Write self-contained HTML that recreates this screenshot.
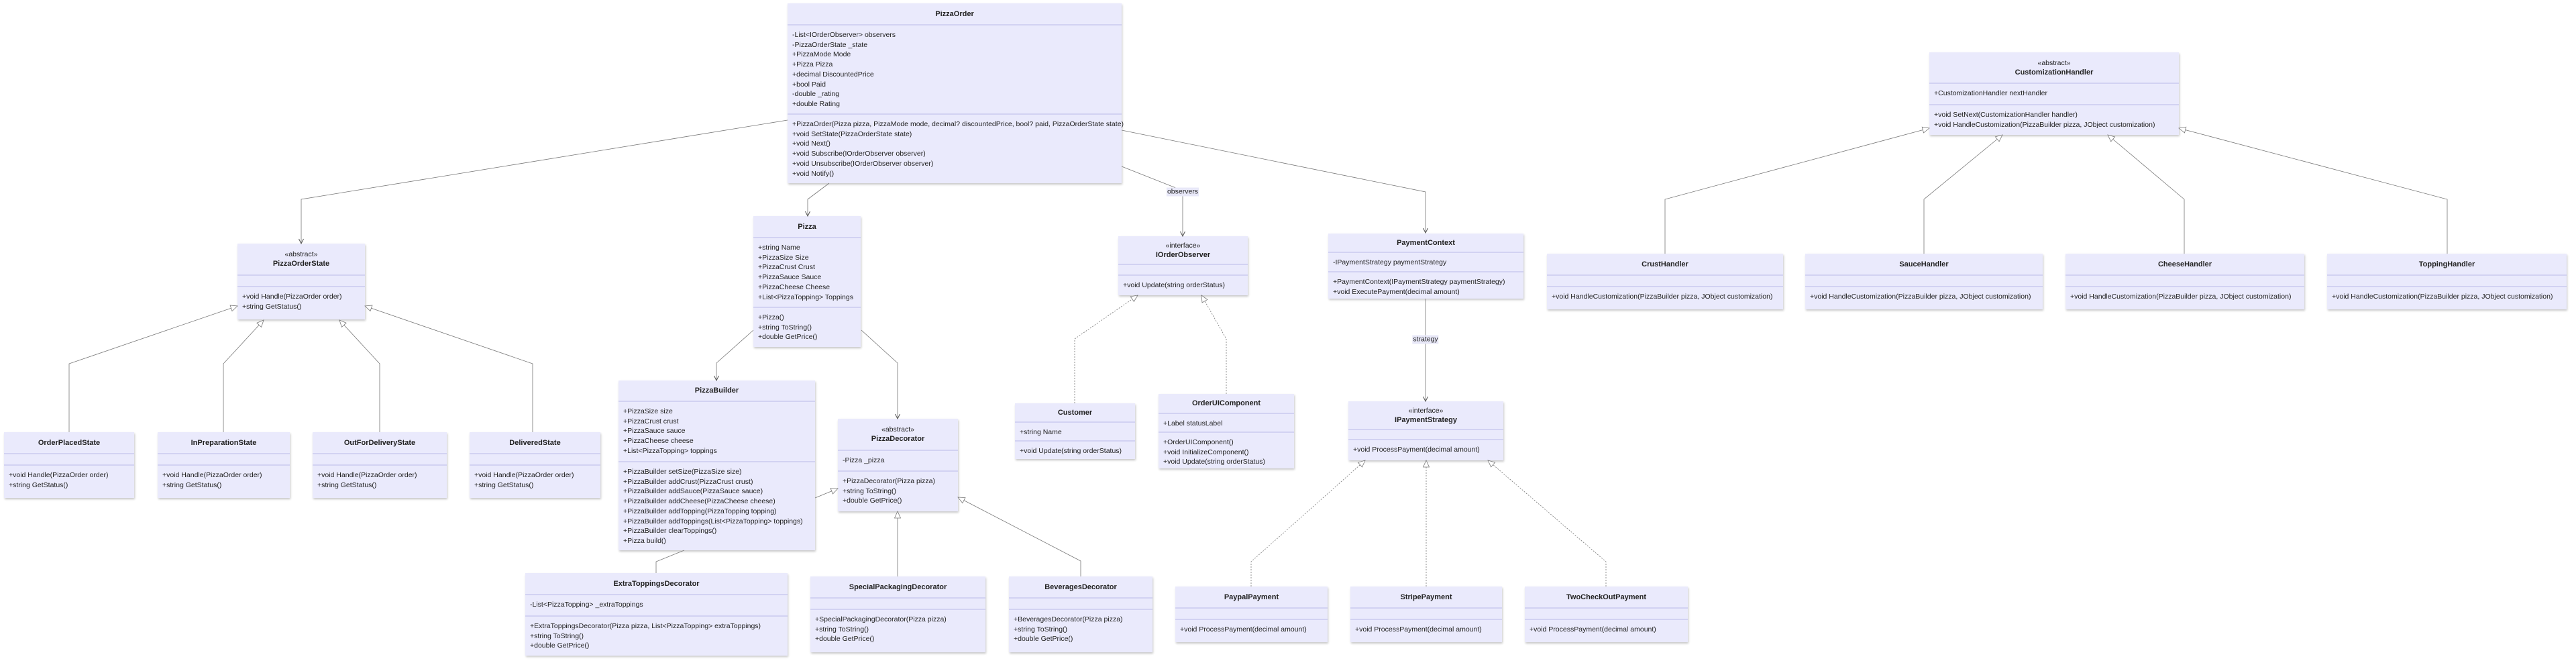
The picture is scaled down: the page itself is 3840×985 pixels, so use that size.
<!DOCTYPE html>
<html><head><meta charset="utf-8">
<style>
html,body{margin:0;padding:0;background:#fff;}
body{width:3840px;height:985px;position:relative;overflow:hidden;font-family:"Liberation Sans",Arial,sans-serif;color:#222;}
.b{position:absolute;background:#eaeafc;box-shadow:1px 2px 3px rgba(0,0,0,0.22);box-sizing:border-box;}
.s{position:absolute;left:0;right:0;box-sizing:border-box;}
.d{border-top:2px solid #d2d2f2;}
.h{display:flex;flex-direction:column;justify-content:center;align-items:center;text-align:center;}
.t{font-weight:bold;font-size:11px;line-height:14px;}
.st{font-size:10.5px;line-height:14px;}
.m{padding:7px 0 0 7px;font-size:10.5px;line-height:14.7px;white-space:nowrap;}
svg{position:absolute;left:0;top:0;}
.lbl{position:absolute;background:#e8e8f8;font-size:10.5px;line-height:13px;padding:0 1px;transform:translate(-50%,-50%);}
</style></head><body>
<div id="boxes"></div>
<svg id="sv" width="3840" height="985"></svg>
<div class="lbl" style="left:1763px;top:286px">observers</div>
<div class="lbl" style="left:2125px;top:506px">strategy</div>
<script>
var B=[
[1174,5,498,268,31,164,"","PizzaOrder",["-List&lt;IOrderObserver&gt; observers","-PizzaOrderState _state","+PizzaMode Mode","+Pizza Pizza","+decimal DiscountedPrice","+bool Paid","-double _rating","+double Rating"],["+PizzaOrder(Pizza pizza, PizzaMode mode, decimal? discountedPrice, bool? paid, PizzaOrderState state)","+void SetState(PizzaOrderState state)","+void Next()","+void Subscribe(IOrderObserver observer)","+void Unsubscribe(IOrderObserver observer)","+void Notify()"]],
[354,363,190,113,46,63,"«abstract»","PizzaOrderState",[],["+void Handle(PizzaOrder order)","+string GetStatus()"]],
[6,644,194,98,31,48,"","OrderPlacedState",[],["+void Handle(PizzaOrder order)","+string GetStatus()"]],
[235,644,197,98,31,48,"","InPreparationState",[],["+void Handle(PizzaOrder order)","+string GetStatus()"]],
[466,644,200,98,31,48,"","OutForDeliveryState",[],["+void Handle(PizzaOrder order)","+string GetStatus()"]],
[700,644,195,98,31,48,"","DeliveredState",[],["+void Handle(PizzaOrder order)","+string GetStatus()"]],
[1123,322,160,195,31,135,"","Pizza",["+string Name","+PizzaSize Size","+PizzaCrust Crust","+PizzaSauce Sauce","+PizzaCheese Cheese","+List&lt;PizzaTopping&gt; Toppings"],["+Pizza()","+string ToString()","+double GetPrice()"]],
[922,567,293,253,30,120,"","PizzaBuilder",["+PizzaSize size","+PizzaCrust crust","+PizzaSauce sauce","+PizzaCheese cheese","+List&lt;PizzaTopping&gt; toppings"],["+PizzaBuilder setSize(PizzaSize size)","+PizzaBuilder addCrust(PizzaCrust crust)","+PizzaBuilder addSauce(PizzaSauce sauce)","+PizzaBuilder addCheese(PizzaCheese cheese)","+PizzaBuilder addTopping(PizzaTopping topping)","+PizzaBuilder addToppings(List&lt;PizzaTopping&gt; toppings)","+PizzaBuilder clearToppings()","+Pizza build()"]],
[1249,624,179,138,46,77,"«abstract»","PizzaDecorator",["-Pizza _pizza"],["+PizzaDecorator(Pizza pizza)","+string ToString()","+double GetPrice()"]],
[783,854,391,123,31,63,"","ExtraToppingsDecorator",["-List&lt;PizzaTopping&gt; _extraToppings"],["+ExtraToppingsDecorator(Pizza pizza, List&lt;PizzaTopping&gt; extraToppings)","+string ToString()","+double GetPrice()"]],
[1208,859,261,113,31,48,"","SpecialPackagingDecorator",[],["+SpecialPackagingDecorator(Pizza pizza)","+string ToString()","+double GetPrice()"]],
[1504,859,214,113,31,48,"","BeveragesDecorator",[],["+BeveragesDecorator(Pizza pizza)","+string ToString()","+double GetPrice()"]],
[1667,352,193,88,41,57,"«interface»","IOrderObserver",[],["+void Update(string orderStatus)"]],
[1513,601,179,83,27,55,"","Customer",["+string Name"],["+void Update(string orderStatus)"]],
[1727,587,202,111,28,56,"","OrderUIComponent",["+Label statusLabel"],["+OrderUIComponent()","+void InitializeComponent()","+void Update(string orderStatus)"]],
[1980,348,291,97,27,56,"","PaymentContext",["-IPaymentStrategy paymentStrategy"],["+PaymentContext(IPaymentStrategy paymentStrategy)","+void ExecutePayment(decimal amount)"]],
[2010,598,231,88,41,56,"«interface»","IPaymentStrategy",[],["+void ProcessPayment(decimal amount)"]],
[1752,874,227,83,31,48,"","PaypalPayment",[],["+void ProcessPayment(decimal amount)"]],
[2013,874,226,83,31,48,"","StripePayment",[],["+void ProcessPayment(decimal amount)"]],
[2273,874,243,83,31,48,"","TwoCheckOutPayment",[],["+void ProcessPayment(decimal amount)"]],
[2876,78,372,123,45,77,"«abstract»","CustomizationHandler",["+CustomizationHandler nextHandler"],["+void SetNext(CustomizationHandler handler)","+void HandleCustomization(PizzaBuilder pizza, JObject customization)"]],
[2306,378,352,83,31,48,"","CrustHandler",[],["+void HandleCustomization(PizzaBuilder pizza, JObject customization)"]],
[2691,378,354,83,31,48,"","SauceHandler",[],["+void HandleCustomization(PizzaBuilder pizza, JObject customization)"]],
[3079,378,356,83,31,48,"","CheeseHandler",[],["+void HandleCustomization(PizzaBuilder pizza, JObject customization)"]],
[3469,378,357,83,31,48,"","ToppingHandler",[],["+void HandleCustomization(PizzaBuilder pizza, JObject customization)"]]
];
var html="";
B.forEach(function(b){
 var x=b[0],y=b[1],w=b[2],h=b[3],h1=b[4],h2=b[5];
 html+='<div class="b" style="left:'+x+'px;top:'+y+'px;width:'+w+'px;height:'+h+'px">';
 html+='<div class="s h" style="top:0;height:'+h1+'px">'+(b[6]?'<div class="st">'+b[6]+'</div>':'')+'<div class="t">'+b[7]+'</div></div>';
 html+='<div class="s d m" style="top:'+h1+'px;height:'+(h2-h1)+'px">'+b[8].join('<br>')+'</div>';
 html+='<div class="s d m" style="top:'+h2+'px;height:'+(h-h2)+'px">'+b[9].join('<br>')+'</div>';
 html+='</div>';
});
document.getElementById('boxes').innerHTML=html;
var s="";
var C="#777";
function pl(p,dash){return '<polyline points="'+p.map(function(q){return q.join(',')}).join(' ')+'" fill="none" stroke="'+C+'" stroke-width="0.8"'+(dash?' stroke-dasharray="2,2"':'')+'/>';}
function head(p,type){
 var a=p[p.length-2],b=p[p.length-1];var dx=b[0]-a[0],dy=b[1]-a[1],L=Math.sqrt(dx*dx+dy*dy);dx/=L;dy/=L;
 var nx=-dy,ny=dx;
 if(type=='open'){var l=7,hw=3.5;
  return '<polyline points="'+(b[0]-dx*l+nx*hw)+','+(b[1]-dy*l+ny*hw)+' '+b[0]+','+b[1]+' '+(b[0]-dx*l-nx*hw)+','+(b[1]-dy*l-ny*hw)+'" fill="none" stroke="#555" stroke-width="1"/>';}
 var l=10,hw=4.5;
 return '<polygon points="'+b[0]+','+b[1]+' '+(b[0]-dx*l+nx*hw)+','+(b[1]-dy*l+ny*hw)+' '+(b[0]-dx*l-nx*hw)+','+(b[1]-dy*l-ny*hw)+'" fill="#fff" stroke="'+C+'" stroke-width="0.8"/>';
}
var A=[
[[1174,179],[449,297],[449,363]],
[[1236,273],[1204,297],[1204,322]],
[[1672,248],[1763,284],[1763,352]],
[[1672,194],[2125,286],[2125,347]],
[[2125,445],[2125,598]],
[[1123,492],[1068,541],[1068,567]],
[[1284,492],[1338,541],[1338,624]]
];
A.forEach(function(p){s+=pl(p)+head(p,'open');});
var I=[
[[103,644],[103,542],[354,456]],
[[333,644],[333,542],[393,477]],
[[566,644],[566,542],[506,477]],
[[794,644],[794,542],[544,456]],
[[1215,742],[1249,728]],
[[1338,859],[1338,762]],
[[1611,859],[1611,836],[1428,741]],
[[2482,378],[2482,297],[2876,191]],
[[2868,378],[2868,297],[2985,201]],
[[3256,378],[3256,297],[3142,201]],
[[3648,378],[3648,297],[3248,191]]
];
I.forEach(function(p){s+=pl(p)+head(p,'tri');});
s+=pl([[978,854],[978,837],[1020,820]]);
var R=[
[[1602,601],[1602,505],[1696,440]],
[[1828,587],[1828,505],[1791,440]],
[[1865,874],[1865,837],[2035,686]],
[[2126,874],[2126,686]],
[[2394,874],[2394,837],[2218,686]]
];
R.forEach(function(p){s+=pl(p,true)+head(p,'tri');});
document.getElementById('sv').innerHTML=s;
</script>
</body></html>
